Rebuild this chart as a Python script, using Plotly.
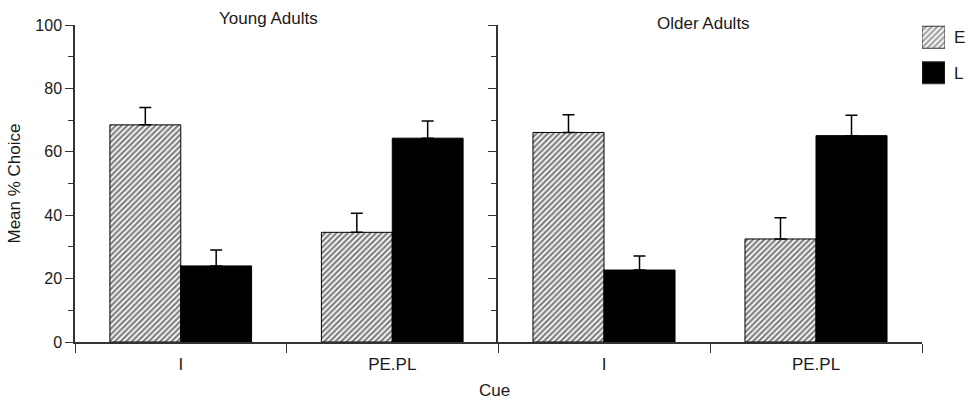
import plotly.graph_objects as go

# ---- data ----
cues = ["I", "PE.PL"]
series_names = ["E", "L"]
young_E = [68.5, 34.6]
young_E_err = [5.5, 6.0]
young_L = [24.0, 64.3]
young_L_err = [5.0, 5.4]
older_E = [66.1, 32.5]
older_E_err = [5.6, 6.7]
older_L = [22.7, 65.1]
older_L_err = [4.4, 6.4]
y_tick_vals = [0, 20, 40, 60, 80, 100]
panel_titles = ["Young Adults", "Older Adults"]

W, H = 970, 402
FONT = "Liberation Sans, Arial, Helvetica, sans-serif"
AX = "#333333"
TXT = "#1a1a1a"


def px_x(v):
    return v / W


def px_y(v):
    return 1 - v / H


hatch = dict(shape="/", fgcolor="black", bgcolor="white", size=4, solidity=0.55)

fig = go.Figure()


def add_bar(x, y, err, name, xa, ya, is_hatched):
    marker = dict(color="white" if is_hatched else "black",
                  line=dict(color="black", width=1))
    if is_hatched:
        marker["pattern"] = hatch
    fig.add_trace(go.Bar(
        x=x, y=y, name=name, xaxis=xa, yaxis=ya, marker=marker,
        error_y=dict(type="data", array=err, arrayminus=[0] * len(err),
                     symmetric=False, color="black", thickness=1.5, width=6),
        showlegend=False, offsetgroup=name,
    ))


add_bar(cues, young_E, young_E_err, "E", "x", "y", True)
add_bar(cues, young_L, young_L_err, "L", "x", "y", False)
add_bar(cues, older_E, older_E_err, "E", "x2", "y2", True)
add_bar(cues, older_L, older_L_err, "L", "x2", "y2", False)

# legend swatches drawn as bars on a small axis
fig.add_trace(go.Bar(
    x=[1, 1], y=series_names, orientation="h", xaxis="x3", yaxis="y3",
    width=0.62, showlegend=False, hoverinfo="skip",
    marker=dict(color=["white", "black"], line=dict(color="#333", width=1),
                pattern=dict(shape=["/", ""], fgcolor="black", bgcolor="white",
                             size=4, solidity=0.55)),
))

y_dom = [px_y(342), px_y(25)]
xl = [px_x(75), px_x(498)]
xr = [px_x(498), px_x(922)]

common_x = dict(type="category", tickson="boundaries", ticks="outside", ticklen=9,
                tickcolor=AX, showline=True, linecolor=AX, linewidth=1.5,
                tickfont=dict(family=FONT, size=17, color=TXT), automargin=False,
                ticklabelstandoff=6,
                range=[-0.5, 1.5], showgrid=False, zeroline=False, fixedrange=True)
common_y = dict(range=[0, 100], tickvals=y_tick_vals, ticks="outside", ticklen=8,
                tickcolor=AX, showline=True, linecolor=AX, linewidth=1.5,
                showgrid=False, zeroline=False, automargin=False,
                minor=dict(dtick=10, ticks="outside", ticklen=5, tickcolor=AX),
                domain=y_dom)

fig.update_layout(
    width=W, height=H, margin=dict(l=0, r=0, t=0, b=0, pad=0, autoexpand=False),
    paper_bgcolor="white", plot_bgcolor="white",
    barmode="group", bargap=0.33, bargroupgap=0,
    font=dict(family=FONT, size=16, color=TXT),
    xaxis=dict(domain=xl, anchor="y", **common_x),
    xaxis2=dict(domain=xr, anchor="y2", **common_x),
    yaxis=dict(anchor="x", tickfont=dict(family=FONT, size=16, color=TXT),
               title=dict(text="Mean % Choice", font=dict(family=FONT, size=17, color=TXT),
                          standoff=10),
               **common_y),
    yaxis2=dict(anchor="x2", showticklabels=False, **common_y),
    xaxis3=dict(domain=[px_x(922), px_x(945)], anchor="y3", range=[0, 1],
                visible=False, fixedrange=True, automargin=False),
    yaxis3=dict(domain=[px_y(90.5), px_y(19.5)], anchor="x3", side="right",
                type="category", autorange="reversed", showline=False, ticks="",
                showgrid=False, zeroline=False, ticklabelstandoff=8, automargin=False,
                tickfont=dict(family=FONT, size=17, color=TXT)),
    showlegend=False,
    annotations=[
        dict(text=panel_titles[0], x=px_x(268), y=px_y(18), xref="paper", yref="paper",
             xanchor="center", yanchor="middle",
             showarrow=False, font=dict(family=FONT, size=17, color=TXT)),
        dict(text=panel_titles[1], x=px_x(703), y=px_y(23), xref="paper", yref="paper",
             xanchor="center", yanchor="middle",
             showarrow=False, font=dict(family=FONT, size=17, color=TXT)),
        dict(text="Cue", x=px_x(495), y=px_y(390), xref="paper", yref="paper",
             xanchor="center", yanchor="middle",
             showarrow=False, font=dict(family=FONT, size=17, color=TXT)),
    ],
)

fig.write_html("out.html")
